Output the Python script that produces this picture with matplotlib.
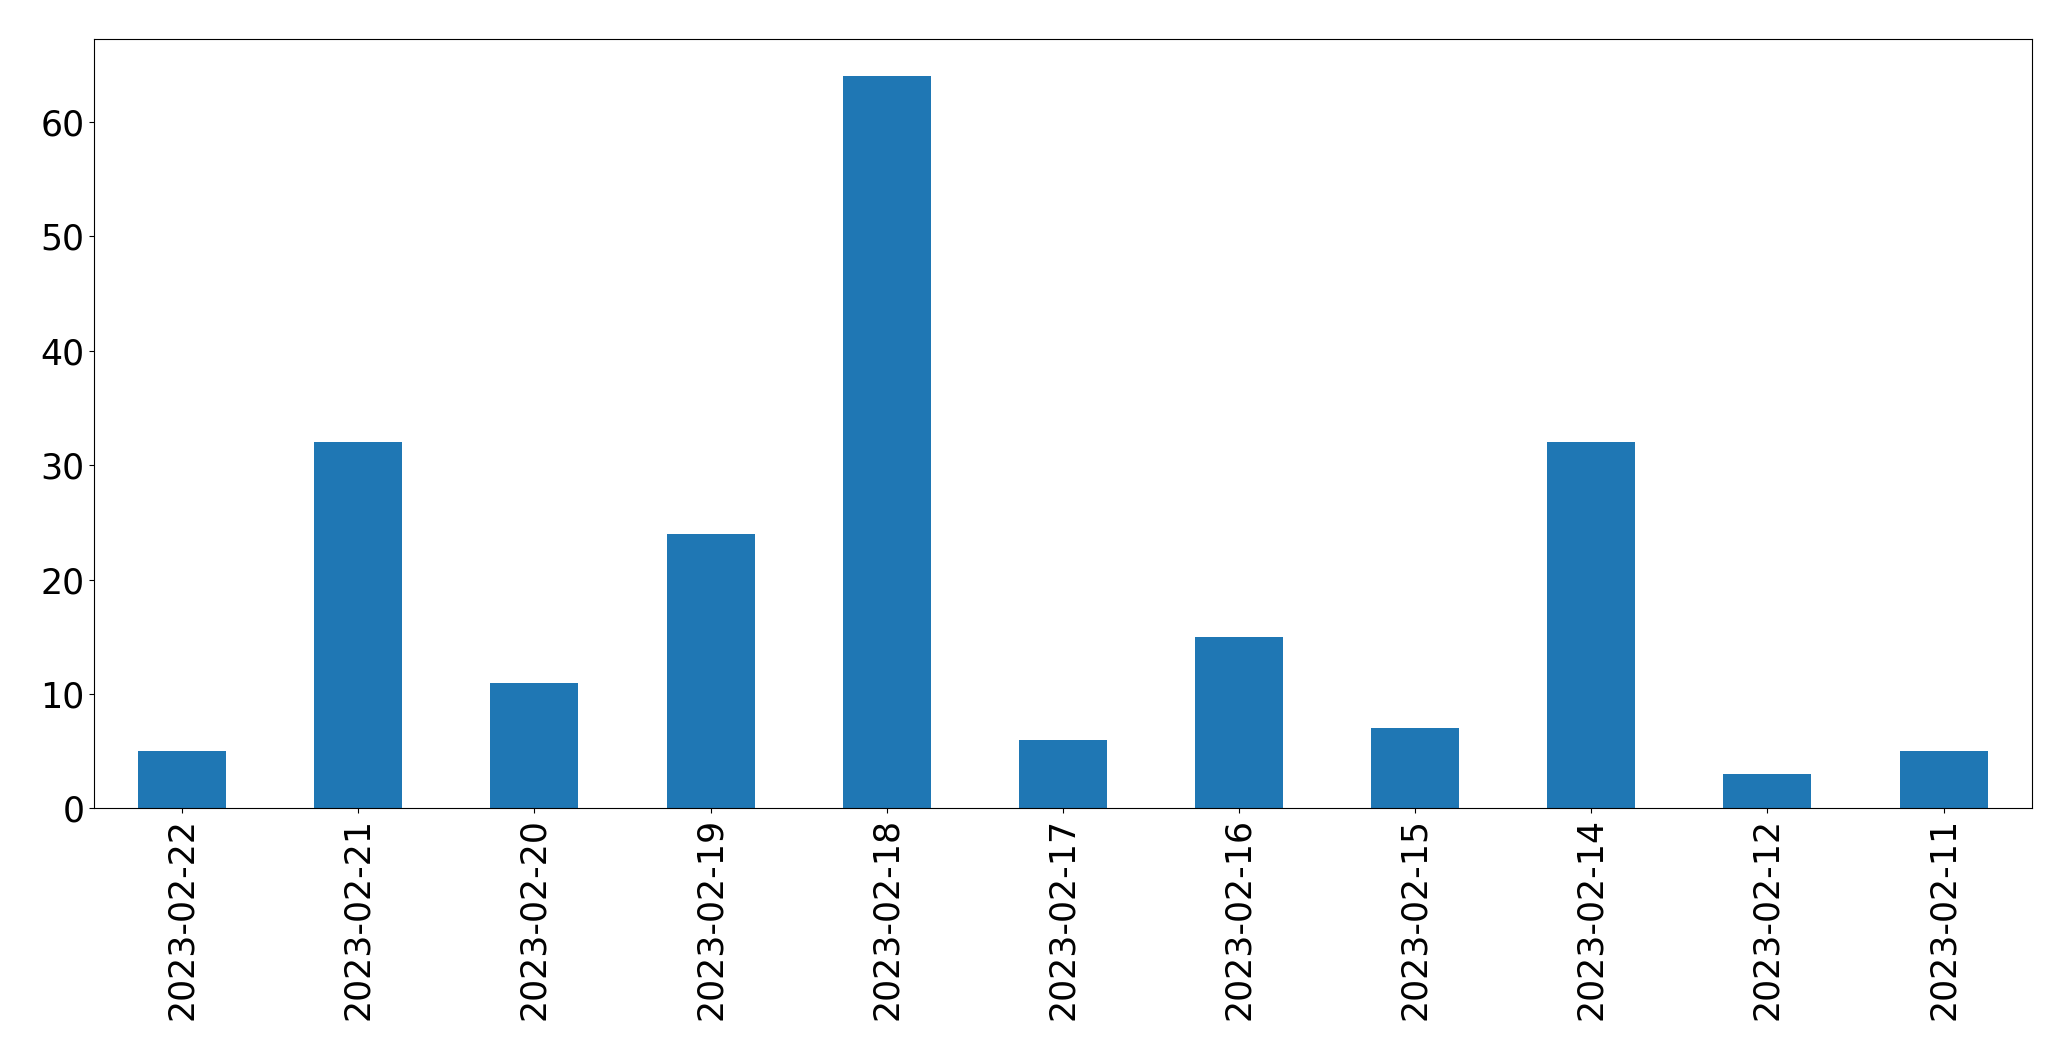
import pandas as pd
import matplotlib.pyplot as plt

dates = ['2023-02-22', '2023-02-21', '2023-02-20', '2023-02-19', '2023-02-18',
         '2023-02-17', '2023-02-16', '2023-02-15', '2023-02-14', '2023-02-12',
         '2023-02-11']
counts = [5, 32, 11, 24, 64, 6, 15, 7, 32, 3, 5]

s = pd.Series(counts, index=dates)

fig, ax = plt.subplots(figsize=(20.71, 10.61), dpi=100)
s.plot(kind='bar', ax=ax, color='#1f77b4', fontsize=25)
ax.tick_params(axis='both', labelsize=25)
fig.subplots_adjust(left=0.0454, right=0.981, top=0.963, bottom=0.238)

fig.savefig('out.png', dpi=100)
